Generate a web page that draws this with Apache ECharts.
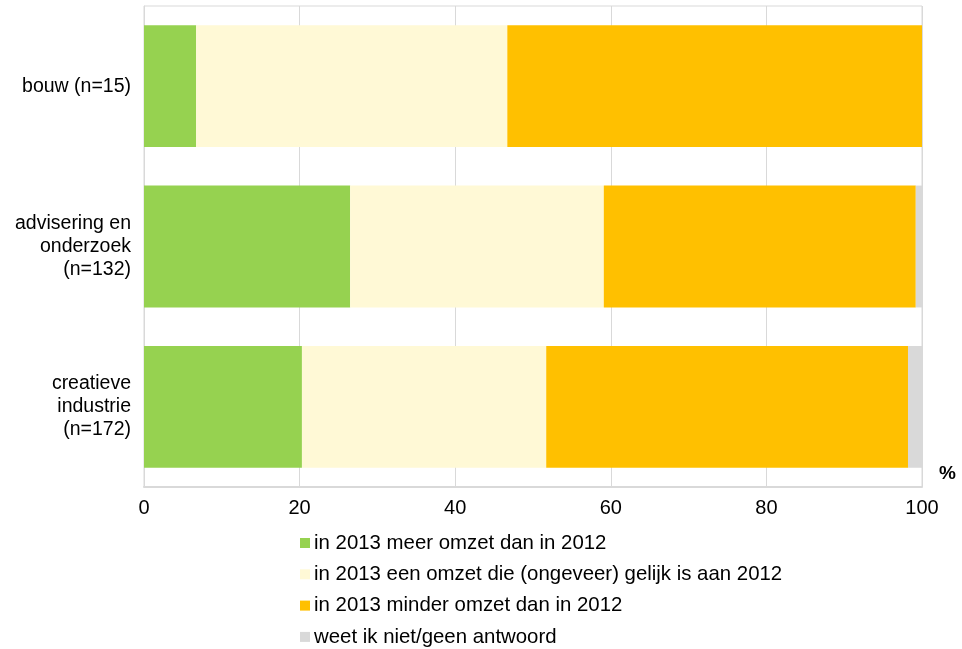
<!DOCTYPE html>
<html>
<head>
<meta charset="utf-8">
<script src="https://cdn.jsdelivr.net/npm/echarts@6/dist/echarts.min.js"></script>
<style>
  html, body { margin: 0; padding: 0; background: #fff; }
  #chart { width: 962px; height: 649px; }
</style>
</head>
<body>
<div id="chart"></div>
<script>
const categories = ['bouw (n=15)', 'advisering en\nonderzoek\n(n=132)', 'creatieve\nindustrie\n(n=172)']
const seriesNames = [
  'in 2013 meer omzet dan in 2012',
  'in 2013 een omzet die (ongeveer) gelijk is aan 2012',
  'in 2013 minder omzet dan in 2012',
  'weet ik niet/geen antwoord'
]
const meer = [6.7, 26.5, 20.3]
const gelijk = [40.0, 32.6, 31.4]
const minder = [53.3, 40.1, 46.5]
const weetNiet = [0, 0.8, 1.8]
const colors = ['#96D250', '#FFF9D6', '#FFC000', '#D9D9D9']

const chart = echarts.init(document.getElementById('chart'))

const font = 'Liberation Sans, Arial, sans-serif'

const option = {
  animation: false,
  textStyle: { fontFamily: font },
  grid: {
    left: 144, right: 40, top: 6, bottom: 162,
    show: true, borderColor: '#D9D9D9', borderWidth: 1
  },
  legend: {
    orient: 'vertical',
    left: 300,
    top: 533,
    padding: 0,
    height: 116,
    icon: 'rect',
    itemWidth: 10,
    itemHeight: 10,
    itemGap: 11.3,
    textStyle: { fontSize: 20.4, lineHeight: 20, color: '#000', fontFamily: font, padding: [0, 0, 0, -1] },
    data: seriesNames
  },
  xAxis: {
    type: 'value',
    min: 0, max: 100, interval: 20,
    name: '%',
    nameLocation: 'end',
    nameGap: 17,
    nameTextStyle: { fontSize: 19, fontWeight: 'bold', color: '#000', verticalAlign: 'bottom', padding: [0, 0, 4, 0] },
    axisLine: { show: true, lineStyle: { color: '#D9D9D9', width: 2 } },
    axisTick: { show: false },
    axisLabel: { fontSize: 20, color: '#000', margin: 11 },
    splitLine: { show: true, lineStyle: { color: '#D9D9D9' } }
  },
  yAxis: {
    type: 'category',
    inverse: true,
    data: categories,
    axisLine: { show: true, lineStyle: { color: '#D9D9D9' } },
    axisTick: { show: false },
    axisLabel: { fontSize: 19.5, color: '#000', lineHeight: 23, margin: 13, align: 'right' }
  },
  series: [meer, gelijk, minder, weetNiet].map((d, i) => ({
    name: seriesNames[i],
    type: 'bar',
    stack: 'total',
    barWidth: '76%',
    itemStyle: { color: colors[i] },
    data: d
  }))
}

chart.setOption(option)
</script>
</body>
</html>
